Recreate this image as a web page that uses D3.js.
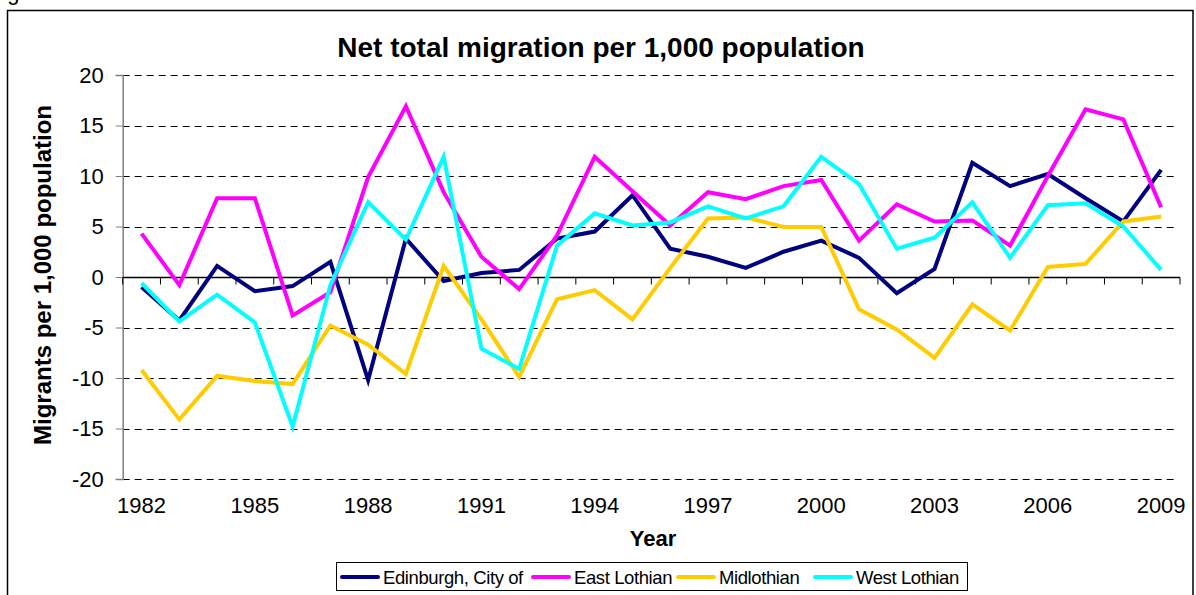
<!DOCTYPE html>
<html><head><meta charset="utf-8">
<script src="https://cdn.jsdelivr.net/npm/d3@7"></script>
<style>
body{margin:0;background:#fff;}
svg{display:block;font-family:"Liberation Sans",Arial,sans-serif;}
</style></head>
<body>
<svg id="chart" width="1196" height="595"></svg>
<script>
const years = d3.range(1982, 2010);
const tickYears = [1982,1985,1988,1991,1994,1997,2000,2003,2006,2009];
const yTicks = [-20,-15,-10,-5,0,5,10,15,20];
const seriesNames = ["Edinburgh, City of","East Lothian","Midlothian","West Lothian"];
const seriesColors = ["#000080","#FF00FF","#FFCC00","#00FFFF"];
const edinburgh = [-1.0,-4.3,1.1,-1.4,-0.9,1.5,-10.2,3.8,-0.4,0.4,0.7,3.8,4.5,8.1,2.8,2.0,0.9,2.5,3.6,1.9,-1.6,0.8,11.3,9.0,10.2,7.8,5.5,10.6];
const eastLothian = [4.3,-0.8,7.8,7.8,-3.8,-1.5,9.9,16.9,8.4,2.0,-1.2,4.1,11.9,8.5,5.1,8.4,7.7,9.0,9.6,3.6,7.2,5.5,5.6,3.1,10.0,16.6,15.6,6.9];
const midlothian = [-9.2,-14.1,-9.8,-10.3,-10.6,-4.8,-6.7,-9.6,1.1,-4.2,-9.9,-2.2,-1.3,-4.2,0.9,5.8,5.9,4.95,4.95,-3.2,-5.2,-8.0,-2.7,-5.3,1.0,1.3,5.5,6.0];
const westLothian = [-0.6,-4.4,-1.75,-4.5,-14.8,-0.8,7.4,3.7,11.9,-7.1,-9.1,3.1,6.3,5.1,5.4,7.0,5.8,7.0,11.9,9.2,2.8,3.9,7.4,1.9,7.1,7.3,5.0,0.7];
const seriesValues = [edinburgh, eastLothian, midlothian, westLothian];

const svg = d3.select("#chart");
const plotLeft = 122.7, plotRight = 1180, plotTop = 75, plotBottom = 479;

// outer border
svg.append("rect").attr("x",7.5).attr("y",10.5).attr("width",1185.5).attr("height",600)
  .attr("fill","none").attr("stroke","#000").attr("stroke-width",1.5);
// cut-off caption above
svg.append("text").attr("x",-11).attr("y",-0.5).attr("font-size",22).text("Figure 5");

const x = d3.scaleBand().domain(years).range([plotLeft,plotRight]).padding(0);
const y = d3.scaleLinear().domain([-20,20]).range([plotBottom,plotTop]);
const cx = d => x(d) + x.bandwidth()/2;

// gridlines
svg.append("g").selectAll("line").data(yTicks.filter(v=>v!==0)).join("line")
  .attr("x1",plotLeft).attr("x2",1176).attr("y1",d=>Math.round(y(d))+0.5).attr("y2",d=>Math.round(y(d))+0.5)
  .attr("stroke","#000").attr("stroke-width",1).attr("stroke-dasharray","7,5");

// y axis
const yAxis = d3.axisLeft(y).tickValues(yTicks).tickSize(7).tickPadding(12).tickFormat(d => String(d));
const gy = svg.append("g").attr("transform",`translate(${plotLeft},0)`).call(yAxis);
gy.select(".domain").attr("stroke","#808080").attr("stroke-width",1.5);
gy.selectAll(".tick line").attr("stroke","#808080");
gy.selectAll("text").attr("font-size",22).attr("font-family","Liberation Sans, Arial, sans-serif").attr("fill","#000");

// x axis at zero with ticks at category boundaries
const y0 = Math.round(y(0))+0.5;
svg.append("line").attr("x1",plotLeft).attr("x2",plotRight).attr("y1",y0).attr("y2",y0).attr("stroke","#000").attr("stroke-width",1.5);
svg.append("g").selectAll("line").data(years.concat([2010])).join("line")
  .attr("x1",d=> d===2010 ? plotRight : x(d)).attr("x2",d=> d===2010 ? plotRight : x(d))
  .attr("y1",y0).attr("y2",y0+7).attr("stroke","#000").attr("stroke-width",1);
svg.append("g").selectAll("text").data(tickYears).join("text")
  .attr("x",d=>cx(d)).attr("y",513).attr("text-anchor","middle").attr("font-size",22).text(d=>d);

// lines
const line = d3.line().x((d,i)=>cx(years[i])).y(d=>y(d));
seriesValues.forEach((vals,k)=>{
  svg.append("path").datum(vals).attr("d",line).attr("fill","none")
    .attr("stroke",seriesColors[k]).attr("stroke-width",4).attr("stroke-linejoin","miter");
});

// titles
svg.append("text").attr("x",601).attr("y",57).attr("text-anchor","middle")
  .attr("font-size",28).attr("font-weight","bold").text("Net total migration per 1,000 population");
svg.append("text").attr("transform","translate(51,275) rotate(-90)").attr("text-anchor","middle")
  .attr("font-size",24).attr("font-weight","bold").text("Migrants per 1,000 population");
svg.append("text").attr("x",653).attr("y",546).attr("text-anchor","middle")
  .attr("font-size",22).attr("font-weight","bold").text("Year");

// legend
const lg = svg.append("g");
lg.append("rect").attr("x",336.5).attr("y",562.5).attr("width",631).attr("height",28)
  .attr("fill","#fff").attr("stroke","#000").attr("stroke-width",1);
const legX = [342,533,678,815];
seriesNames.forEach((n,k)=>{
  lg.append("line").attr("x1",legX[k]).attr("x2",legX[k]+36).attr("y1",577).attr("y2",577)
    .attr("stroke",seriesColors[k]).attr("stroke-width",4).attr("stroke-linecap","round");
  lg.append("text").attr("x",legX[k]+41).attr("y",583.5).attr("font-size",18.5).attr("letter-spacing","-0.4").text(n);
});
</script>
</body></html>
